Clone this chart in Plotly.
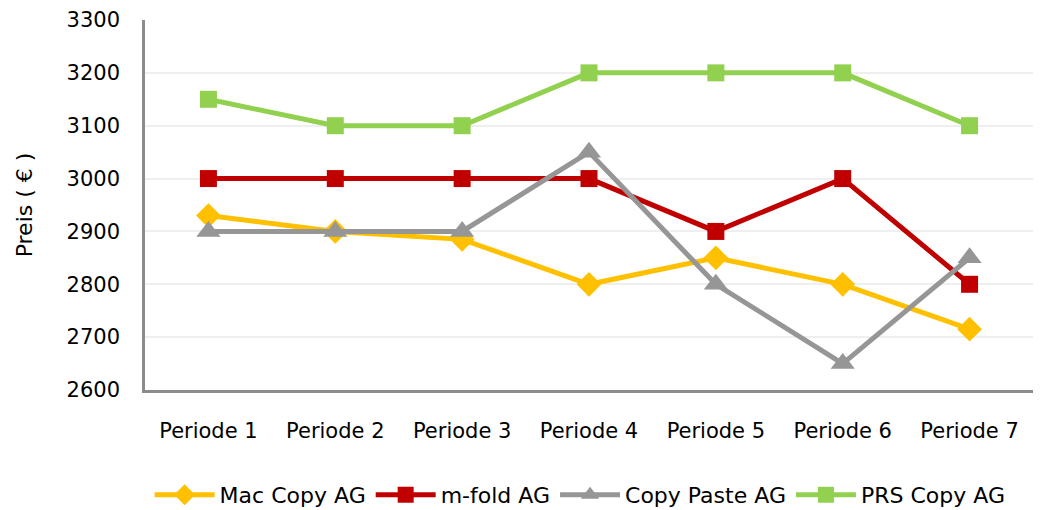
import plotly.graph_objects as go

# -- Data ---------------------------------------------------------------------
periods = ["Periode 1", "Periode 2", "Periode 3", "Periode 4",
           "Periode 5", "Periode 6", "Periode 7"]
mac_copy = [2930, 2900, 2885, 2800, 2850, 2800, 2715]
m_fold = [3000, 3000, 3000, 3000, 2900, 3000, 2800]
copy_paste = [2900, 2900, 2900, 3050, 2800, 2650, 2850]
prs_copy = [3150, 3100, 3100, 3200, 3200, 3200, 3100]

FONT = "'DejaVu Sans', sans-serif"
AXIS = "#8c8c8c"
GRID = "#efefef"

series = [
    ("Mac Copy AG", mac_copy, "#ffc000", "diamond", 19),
    ("m-fold AG", m_fold, "#c00000", "square", 17),
    ("Copy Paste AG", copy_paste, "#969696", "triangle-up", 21),
    ("PRS Copy AG", prs_copy, "#92d050", "square", 17),
]

fig = go.Figure()
for name, vals, color, sym, size in series:
    fig.add_trace(go.Scatter(
        x=periods, y=vals, name=name, mode="lines+markers",
        line=dict(color=color, width=5),
        marker=dict(symbol=sym, size=size, color=color),
    ))

# page body has an 8px margin, so the figure is sized 8px short
fig.update_layout(
    width=1033, height=502,
    paper_bgcolor="white", plot_bgcolor="white",
    font=dict(family=FONT, size=21, color="#000000"),
    margin=dict(l=137, r=8, t=12, b=120, autoexpand=False),
    showlegend=True,
    legend=dict(orientation="h", x=0.49, xanchor="center",
                yref="container", y=0.03, yanchor="middle",
                font=dict(size=22), itemwidth=60, tracegroupgap=0),
    xaxis=dict(showline=True, linecolor=AXIS, linewidth=2.5,
               showgrid=False, ticks="", tickfont=dict(size=21),
               ticklabelstandoff=20, automargin=False,
               range=[-0.5, 6.5], mirror=False),
    yaxis=dict(title=dict(text="Preis ( € )", font=dict(size=22), standoff=28),
               range=[2600, 3300], dtick=100, showline=True,
               linecolor=AXIS, linewidth=2.5, gridcolor=GRID, gridwidth=1.5,
               zeroline=False, ticks="", tickfont=dict(size=21),
               ticklabelstandoff=18, automargin=False),
)

fig.write_html("out.html")
